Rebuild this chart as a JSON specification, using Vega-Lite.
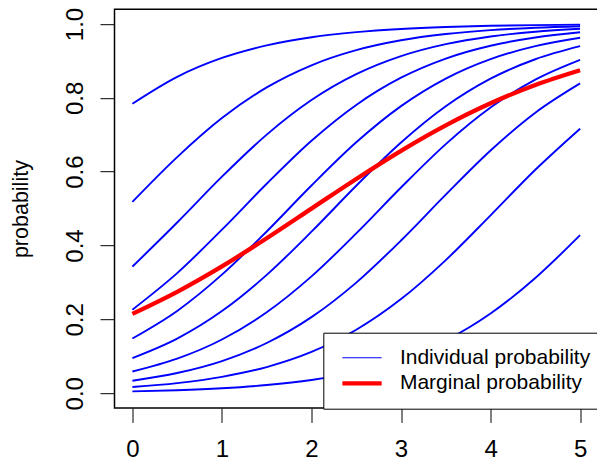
{
  "$schema": "https://vega.github.io/schema/vega-lite/v6.json",
  "width": 483.5,
  "height": 398.8,
  "autosize": {"type": "none"},
  "padding": {"left": 114.5, "top": 9.2, "right": 0, "bottom": 52},
  "config": {
    "font": "Liberation Sans",
    "view": {"stroke": "black", "strokeWidth": 1.5},
    "axis": {
      "grid": false, "domain": false, "ticks": true, "tickColor": "black", "tickWidth": 1,
      "labelColor": "black", "labelFont": "Liberation Sans", "labelFontSize": 24,
      "titleColor": "black", "titleFont": "Liberation Sans", "titleFontWeight": "normal"
    },
    "legend": {
      "orient": "none", "legendX": 208.8, "legendY": 323.5, "fillColor": "white", "strokeColor": "black",
      "padding": 14.5, "labelFont": "Liberation Sans", "labelFontSize": 21, "labelColor": "black", "labelLimit": 400,
      "symbolType": "M-2,0H2", "symbolSize": 386, "symbolOffset": 13.7, "labelOffset": 27.4, "rowPadding": 3.6
    }
  },
  "data": {"values": [
    {"c": 1, "g": "Individual probability", "x": 0, "p": 0.7841},
    {"c": 1, "g": "Individual probability", "x": 0.5, "p": 0.8569},
    {"c": 1, "g": "Individual probability", "x": 1, "p": 0.9080},
    {"c": 1, "g": "Individual probability", "x": 1.5, "p": 0.9421},
    {"c": 1, "g": "Individual probability", "x": 2, "p": 0.9641},
    {"c": 1, "g": "Individual probability", "x": 2.5, "p": 0.9779},
    {"c": 1, "g": "Individual probability", "x": 3, "p": 0.9865},
    {"c": 1, "g": "Individual probability", "x": 3.5, "p": 0.9918},
    {"c": 1, "g": "Individual probability", "x": 4, "p": 0.9950},
    {"c": 1, "g": "Individual probability", "x": 4.5, "p": 0.9970},
    {"c": 1, "g": "Individual probability", "x": 5, "p": 0.9981},
    {"c": 2, "g": "Individual probability", "x": 0, "p": 0.5182},
    {"c": 2, "g": "Individual probability", "x": 0.5, "p": 0.6394},
    {"c": 2, "g": "Individual probability", "x": 1, "p": 0.7451},
    {"c": 2, "g": "Individual probability", "x": 1.5, "p": 0.8282},
    {"c": 2, "g": "Individual probability", "x": 2, "p": 0.8882},
    {"c": 2, "g": "Individual probability", "x": 2.5, "p": 0.9291},
    {"c": 2, "g": "Individual probability", "x": 3, "p": 0.9558},
    {"c": 2, "g": "Individual probability", "x": 3.5, "p": 0.9727},
    {"c": 2, "g": "Individual probability", "x": 4, "p": 0.9833},
    {"c": 2, "g": "Individual probability", "x": 4.5, "p": 0.9898},
    {"c": 2, "g": "Individual probability", "x": 5, "p": 0.9938},
    {"c": 3, "g": "Individual probability", "x": 0, "p": 0.3428},
    {"c": 3, "g": "Individual probability", "x": 0.5, "p": 0.4623},
    {"c": 3, "g": "Individual probability", "x": 1, "p": 0.5864},
    {"c": 3, "g": "Individual probability", "x": 1.5, "p": 0.7004},
    {"c": 3, "g": "Individual probability", "x": 2, "p": 0.7940},
    {"c": 3, "g": "Individual probability", "x": 2.5, "p": 0.8640},
    {"c": 3, "g": "Individual probability", "x": 3, "p": 0.9129},
    {"c": 3, "g": "Individual probability", "x": 3.5, "p": 0.9453},
    {"c": 3, "g": "Individual probability", "x": 4, "p": 0.9661},
    {"c": 3, "g": "Individual probability", "x": 4.5, "p": 0.9791},
    {"c": 3, "g": "Individual probability", "x": 5, "p": 0.9872},
    {"c": 4, "g": "Individual probability", "x": 0, "p": 0.2263},
    {"c": 4, "g": "Individual probability", "x": 0.5, "p": 0.3253},
    {"c": 4, "g": "Individual probability", "x": 1, "p": 0.4429},
    {"c": 4, "g": "Individual probability", "x": 1.5, "p": 0.5672},
    {"c": 4, "g": "Individual probability", "x": 2, "p": 0.6837},
    {"c": 4, "g": "Individual probability", "x": 2.5, "p": 0.7808},
    {"c": 4, "g": "Individual probability", "x": 3, "p": 0.8545},
    {"c": 4, "g": "Individual probability", "x": 3.5, "p": 0.9064},
    {"c": 4, "g": "Individual probability", "x": 4, "p": 0.9411},
    {"c": 4, "g": "Individual probability", "x": 4.5, "p": 0.9634},
    {"c": 4, "g": "Individual probability", "x": 5, "p": 0.9775},
    {"c": 5, "g": "Individual probability", "x": 0, "p": 0.1482},
    {"c": 5, "g": "Individual probability", "x": 0.5, "p": 0.2229},
    {"c": 5, "g": "Individual probability", "x": 1, "p": 0.3211},
    {"c": 5, "g": "Individual probability", "x": 1.5, "p": 0.4381},
    {"c": 5, "g": "Individual probability", "x": 2, "p": 0.5625},
    {"c": 5, "g": "Individual probability", "x": 2.5, "p": 0.6795},
    {"c": 5, "g": "Individual probability", "x": 3, "p": 0.7775},
    {"c": 5, "g": "Individual probability", "x": 3.5, "p": 0.8521},
    {"c": 5, "g": "Individual probability", "x": 4, "p": 0.9048},
    {"c": 5, "g": "Individual probability", "x": 4.5, "p": 0.9400},
    {"c": 5, "g": "Individual probability", "x": 5, "p": 0.9627},
    {"c": 6, "g": "Individual probability", "x": 0, "p": 0.0952},
    {"c": 6, "g": "Individual probability", "x": 0.5, "p": 0.1479},
    {"c": 6, "g": "Individual probability", "x": 1, "p": 0.2225},
    {"c": 6, "g": "Individual probability", "x": 1.5, "p": 0.3205},
    {"c": 6, "g": "Individual probability", "x": 2, "p": 0.4375},
    {"c": 6, "g": "Individual probability", "x": 2.5, "p": 0.5619},
    {"c": 6, "g": "Individual probability", "x": 3, "p": 0.6789},
    {"c": 6, "g": "Individual probability", "x": 3.5, "p": 0.7771},
    {"c": 6, "g": "Individual probability", "x": 4, "p": 0.8518},
    {"c": 6, "g": "Individual probability", "x": 4.5, "p": 0.9045},
    {"c": 6, "g": "Individual probability", "x": 5, "p": 0.9398},
    {"c": 7, "g": "Individual probability", "x": 0, "p": 0.0589},
    {"c": 7, "g": "Individual probability", "x": 0.5, "p": 0.0936},
    {"c": 7, "g": "Individual probability", "x": 1, "p": 0.1455},
    {"c": 7, "g": "Individual probability", "x": 1.5, "p": 0.2192},
    {"c": 7, "g": "Individual probability", "x": 2, "p": 0.3164},
    {"c": 7, "g": "Individual probability", "x": 2.5, "p": 0.4328},
    {"c": 7, "g": "Individual probability", "x": 3, "p": 0.5571},
    {"c": 7, "g": "Individual probability", "x": 3.5, "p": 0.6747},
    {"c": 7, "g": "Individual probability", "x": 4, "p": 0.7737},
    {"c": 7, "g": "Individual probability", "x": 4.5, "p": 0.8493},
    {"c": 7, "g": "Individual probability", "x": 5, "p": 0.9029},
    {"c": 8, "g": "Individual probability", "x": 0, "p": 0.0339},
    {"c": 8, "g": "Individual probability", "x": 0.5, "p": 0.0547},
    {"c": 8, "g": "Individual probability", "x": 1, "p": 0.0871},
    {"c": 8, "g": "Individual probability", "x": 1.5, "p": 0.1360},
    {"c": 8, "g": "Individual probability", "x": 2, "p": 0.2060},
    {"c": 8, "g": "Individual probability", "x": 2.5, "p": 0.2996},
    {"c": 8, "g": "Individual probability", "x": 3, "p": 0.4136},
    {"c": 8, "g": "Individual probability", "x": 3.5, "p": 0.5377},
    {"c": 8, "g": "Individual probability", "x": 4, "p": 0.6572},
    {"c": 8, "g": "Individual probability", "x": 4.5, "p": 0.7597},
    {"c": 8, "g": "Individual probability", "x": 5, "p": 0.8390},
    {"c": 9, "g": "Individual probability", "x": 0, "p": 0.0167},
    {"c": 9, "g": "Individual probability", "x": 0.5, "p": 0.0273},
    {"c": 9, "g": "Individual probability", "x": 1, "p": 0.0442},
    {"c": 9, "g": "Individual probability", "x": 1.5, "p": 0.0709},
    {"c": 9, "g": "Individual probability", "x": 2, "p": 0.1118},
    {"c": 9, "g": "Individual probability", "x": 2.5, "p": 0.1718},
    {"c": 9, "g": "Individual probability", "x": 3, "p": 0.2549},
    {"c": 9, "g": "Individual probability", "x": 3.5, "p": 0.3606},
    {"c": 9, "g": "Individual probability", "x": 4, "p": 0.4818},
    {"c": 9, "g": "Individual probability", "x": 4.5, "p": 0.6052},
    {"c": 9, "g": "Individual probability", "x": 5, "p": 0.7165},
    {"c": 10, "g": "Individual probability", "x": 0, "p": 0.0050},
    {"c": 10, "g": "Individual probability", "x": 0.5, "p": 0.0082},
    {"c": 10, "g": "Individual probability", "x": 1, "p": 0.0135},
    {"c": 10, "g": "Individual probability", "x": 1.5, "p": 0.0221},
    {"c": 10, "g": "Individual probability", "x": 2, "p": 0.0359},
    {"c": 10, "g": "Individual probability", "x": 2.5, "p": 0.0579},
    {"c": 10, "g": "Individual probability", "x": 3, "p": 0.0920},
    {"c": 10, "g": "Individual probability", "x": 3.5, "p": 0.1431},
    {"c": 10, "g": "Individual probability", "x": 4, "p": 0.2159},
    {"c": 10, "g": "Individual probability", "x": 4.5, "p": 0.3122},
    {"c": 10, "g": "Individual probability", "x": 5, "p": 0.4281},
    {"c": 0, "g": "Marginal probability", "x": 0, "p": 0.2149},
    {"c": 0, "g": "Marginal probability", "x": 0.5, "p": 0.2746},
    {"c": 0, "g": "Marginal probability", "x": 1, "p": 0.3435},
    {"c": 0, "g": "Marginal probability", "x": 1.5, "p": 0.4197},
    {"c": 0, "g": "Marginal probability", "x": 2, "p": 0.5},
    {"c": 0, "g": "Marginal probability", "x": 2.5, "p": 0.5803},
    {"c": 0, "g": "Marginal probability", "x": 3, "p": 0.6565},
    {"c": 0, "g": "Marginal probability", "x": 3.5, "p": 0.7254},
    {"c": 0, "g": "Marginal probability", "x": 4, "p": 0.7851},
    {"c": 0, "g": "Marginal probability", "x": 4.5, "p": 0.8347},
    {"c": 0, "g": "Marginal probability", "x": 5, "p": 0.8747}
  ]},
  "encoding": {
    "x": {
      "field": "x", "type": "quantitative",
      "scale": {"domain": [-0.2, 5.2], "nice": false, "zero": false},
      "axis": {"values": [0, 1, 2, 3, 4, 5], "format": "d", "title": null, "tickSize": 14.4, "labelPadding": 15.3, "labelFlush": false, "labelOverlap": false}
    },
    "y": {
      "field": "p", "type": "quantitative",
      "scale": {"domain": [-0.04, 1.04], "nice": false, "zero": false},
      "axis": {
        "values": [0, 0.2, 0.4, 0.6, 0.8, 1], "format": ".1f", "title": "probability", "titleFontSize": 21.5,
        "tickSize": 14.5, "labelPadding": 18, "labelAngle": 270, "labelAlign": "center", "labelBaseline": "alphabetic",
        "labelFlush": false, "labelOverlap": false,
        "titleAngle": 270, "titleBaseline": "middle", "titleAnchor": "middle", "titleX": -93.5, "titleY": 199.4
      }
    },
    "color": {
      "field": "g", "type": "nominal",
      "scale": {"domain": ["Individual probability", "Marginal probability"], "range": ["#0000ff", "#ff0000"]},
      "legend": {"title": null, "encode": {"symbols": {"update": {"strokeWidth": {"signal": "datum.value == 'Marginal probability' ? 4.3 : 1.1"}}}}}
    }
  },
  "layer": [
    {
      "transform": [{"filter": "datum.g == 'Individual probability'"}],
      "mark": {"type": "line", "strokeWidth": 1.9, "interpolate": "monotone"},
      "encoding": {"detail": {"field": "c", "type": "nominal"}}
    },
    {
      "transform": [{"filter": "datum.g == 'Marginal probability'"}],
      "mark": {"type": "line", "strokeWidth": 4.3, "interpolate": "monotone"}
    }
  ]
}
